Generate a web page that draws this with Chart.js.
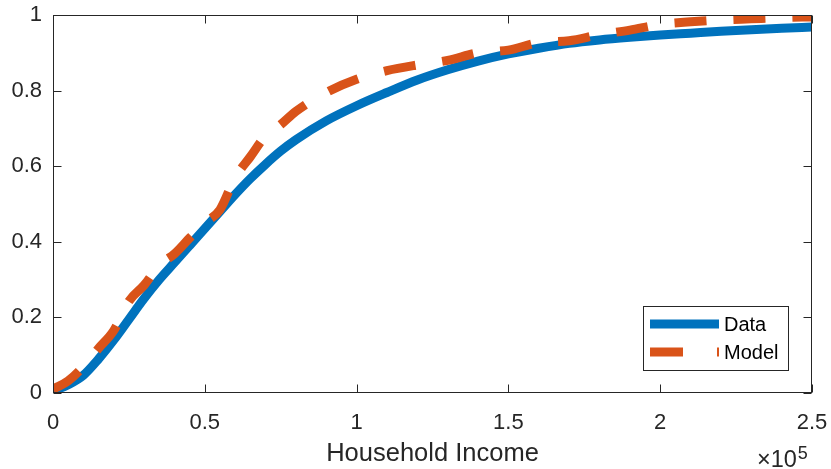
<!DOCTYPE html>
<html>
<head>
<meta charset="utf-8">
<script src="https://cdn.jsdelivr.net/npm/chart.js@4"></script>
<style>
  body { margin: 0; background: #fff; }
  canvas { display: block; }
</style>
</head>
<body>
<canvas id="cdf" width="831" height="469"></canvas>
<script>
// household income (dollars) and cumulative shares
const income = [0, 5000, 10000, 15000, 20000, 25000, 30000, 35000, 40000, 45000,
  50000, 55000, 60000, 65000, 70000, 75000, 80000, 90000, 100000, 110000,
  120000, 130000, 140000, 150000, 160000, 170000, 180000, 190000, 200000,
  210000, 220000, 230000, 240000, 250000];
const dataCdf = [0.005, 0.022, 0.047, 0.09, 0.14, 0.195, 0.25, 0.3, 0.345, 0.39,
  0.435, 0.48, 0.525, 0.567, 0.605, 0.64, 0.67, 0.72, 0.76, 0.795,
  0.828, 0.855, 0.878, 0.897, 0.912, 0.925, 0.934, 0.941, 0.947,
  0.952, 0.957, 0.961, 0.965, 0.968];
const modelCdf = [0.01, 0.032, 0.07, 0.118, 0.165, 0.243, 0.285, 0.338, 0.368, 0.41,
  0.45, 0.485, 0.57, 0.625, 0.68, 0.71, 0.745, 0.795, 0.83, 0.853,
  0.868, 0.88, 0.9, 0.907, 0.927, 0.932, 0.948, 0.96, 0.975,
  0.982, 0.987, 0.99, 0.993, 0.995];
const xTicks = [0, 50000, 100000, 150000, 200000, 250000];
const yTicks = [0, 0.2, 0.4, 0.6, 0.8, 1];

const BLUE = "#0072BD";
const ORANGE = "#D95319";
const AXIS = "#262626";
const FONT = "'Liberation Sans', Arial, Helvetica, sans-serif";

const toPoints = (ys) => income.map((x, i) => ({ x: x, y: ys[i] }));

// box with inward ticks on all four sides, matlab style
const boxPlugin = {
  id: "box",
  afterDatasetsDraw(chart) {
    const { ctx, chartArea: a, scales } = chart;
    const L = Math.round(a.left) + 0.5, R = Math.round(a.right) - 0.5;
    const T = Math.round(a.top) + 0.5, B = Math.round(a.bottom) - 0.5;
    ctx.save();
    ctx.strokeStyle = AXIS;
    ctx.lineWidth = 1;
    ctx.strokeRect(L, T, R - L, B - T);
    ctx.beginPath();
    xTicks.forEach((v) => {
      const px = Math.round(scales.x.getPixelForValue(v)) + 0.5;
      ctx.moveTo(px, B); ctx.lineTo(px, B - 8);
      ctx.moveTo(px, T); ctx.lineTo(px, T + 8);
    });
    yTicks.forEach((v) => {
      const py = Math.round(scales.y.getPixelForValue(v)) + 0.5;
      ctx.moveTo(L, py); ctx.lineTo(L + 8, py);
      ctx.moveTo(R, py); ctx.lineTo(R - 8, py);
    });
    ctx.stroke();
    ctx.restore();
  },
  afterDraw(chart) {
    const { ctx } = chart;
    ctx.save();
    // exponent label
    ctx.fillStyle = AXIS;
    ctx.textBaseline = "alphabetic";
    ctx.textAlign = "left";
    ctx.font = "23.5px " + FONT;
    const base = "\u00d710";
    const bx = 757;
    ctx.fillText(base, bx, 467);
    const w = ctx.measureText(base).width;
    ctx.font = "18px " + FONT;
    ctx.fillText("5", bx + w + 1, 459);

    // legend
    const lx = 643.5, ly = 306.5, lw = 145, lh = 64;
    ctx.fillStyle = "#fff";
    ctx.fillRect(lx, ly, lw, lh);
    ctx.strokeStyle = AXIS;
    ctx.lineWidth = 1;
    ctx.strokeRect(lx, ly, lw, lh);

    ctx.lineWidth = 9;
    ctx.lineCap = "butt";
    ctx.strokeStyle = BLUE;
    ctx.beginPath();
    ctx.moveTo(650, 324); ctx.lineTo(719, 324);
    ctx.stroke();
    ctx.strokeStyle = ORANGE;
    ctx.setLineDash([33, 34]);
    ctx.beginPath();
    ctx.moveTo(650, 352); ctx.lineTo(719, 352);
    ctx.stroke();
    ctx.setLineDash([]);

    ctx.fillStyle = "#000";
    ctx.font = "20px " + FONT;
    ctx.textBaseline = "middle";
    ctx.fillText("Data", 724, 325);
    ctx.fillText("Model", 724, 353);
    ctx.restore();
  }
};

new Chart(document.getElementById("cdf"), {
  type: "line",
  data: {
    datasets: [
      {
        label: "Data",
        data: toPoints(dataCdf),
        borderColor: BLUE,
        borderWidth: 9,
        pointRadius: 0,
        cubicInterpolationMode: "monotone",
        order: 2
      },
      {
        label: "Model",
        data: toPoints(modelCdf),
        borderColor: ORANGE,
        borderWidth: 9,
        borderDash: [32, 27],
        borderCapStyle: "butt",
        pointRadius: 0,
        cubicInterpolationMode: "monotone",
        order: 1
      }
    ]
  },
  options: {
    responsive: false,
    devicePixelRatio: 1,
    animation: false,
    layout: { padding: { top: 15, right: 19, left: 0, bottom: 0 } },
    plugins: {
      legend: { display: false },
      tooltip: { enabled: false }
    },
    scales: {
      x: {
        type: "linear",
        min: 0,
        max: 250000,
        afterBuildTicks: (scale) => { scale.ticks = xTicks.map((v) => ({ value: v })); },
        afterFit: (scale) => {
          scale.height = 76;
          scale.paddingLeft = 0;
          scale.paddingRight = 0;
        },
        grid: { display: false, drawTicks: false },
        border: { display: false },
        ticks: {
          color: AXIS,
          font: { family: FONT, size: 22 },
          padding: 17,
          maxRotation: 0,
          callback: (v) => String(v / 100000)
        },
        title: {
          display: true,
          text: "Household Income",
          color: AXIS,
          font: { family: FONT, size: 25.5 },
          padding: { top: 0, bottom: 0 }
        }
      },
      y: {
        min: 0,
        max: 1,
        afterBuildTicks: (scale) => { scale.ticks = yTicks.map((v) => ({ value: v })); },
        afterFit: (scale) => {
          scale.width = 53;
          scale.paddingTop = 0;
          scale.paddingBottom = 0;
        },
        grid: { display: false, drawTicks: false },
        border: { display: false },
        ticks: {
          color: AXIS,
          font: { family: FONT, size: 22 },
          padding: 11,
          callback: (v) => String(v)
        }
      }
    }
  },
  plugins: [boxPlugin]
});
</script>
</body>
</html>
